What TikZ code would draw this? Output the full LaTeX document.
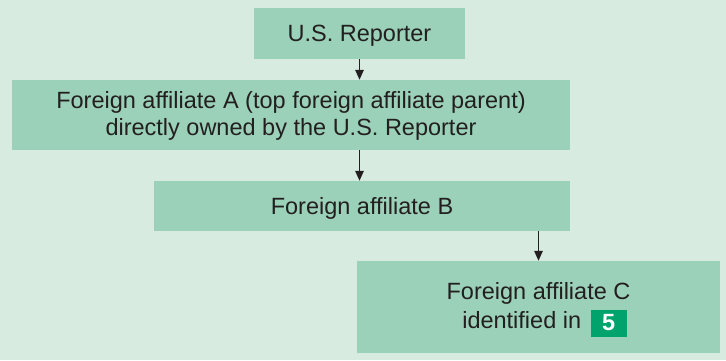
\documentclass[tikz,border=0pt]{standalone}
\usepackage{fontspec}
\setmainfont{Liberation Sans}
\usetikzlibrary{arrows.meta}
\definecolor{bgmint}{HTML}{D8EBE1}
\definecolor{boxfill}{HTML}{9AD1B8}
\definecolor{txt}{HTML}{231F20}
\definecolor{badgegreen}{HTML}{00A36C}
\newcommand\numbadge[1]{{\setlength{\fboxsep}{0pt}\raisebox{-8pt}{\colorbox{badgegreen}{\parbox[b][27pt][c]{36pt}{\centering\color{white}\bfseries #1}}}}}
\tikzset{
  fbox/.style={rectangle, fill=boxfill, draw=none, text=txt, align=center, inner sep=0pt,
    text depth=0pt, font=\fontsize{23.5}{27}\selectfont},
  conn/.style={draw=txt, line width=1.4pt, -{Triangle[length=10pt,width=8.5pt]}}
}
\begin{document}
\begin{tikzpicture}[x=1pt,y=-1pt]
\fill[bgmint] (0,0) rectangle (726,360);
\useasboundingbox (0,0) rectangle (726,360);
\node[fbox, minimum width=211pt, minimum height=51pt] (rep) at (359.5,33.5) {U.S. Reporter};
\node[fbox, minimum width=558pt, minimum height=70pt, text depth=3pt] (fa) at (291,115) {Foreign affiliate A (top foreign affiliate parent)\\directly owned by the U.S. Reporter};
\node[fbox, minimum width=416pt, minimum height=50pt] (fb) at (362,206) {Foreign affiliate B};
\node[fbox, minimum width=363pt, minimum height=92pt, text depth=3pt, font=\fontsize{23.5}{29}\selectfont] (fc) at (538.5,307) {Foreign affiliate C\\\hspace*{12pt}identified in\hspace{3pt} \numbadge{5}};
\draw[conn] (rep.south -| rep) -- (rep |- fa.north);
\draw[conn] (fa.south -| rep) -- (rep |- fb.north);
\draw[conn] (fb.south -| fc) -- (fc.north);
\end{tikzpicture}
\end{document}
